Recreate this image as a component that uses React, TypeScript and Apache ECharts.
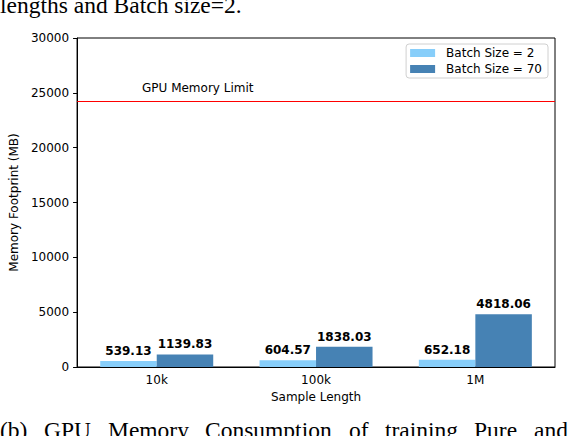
import { useEffect, useRef } from "react";
import * as echarts from "echarts";

// sample lengths on the x axis
const categories = ["10k", "100k", "1M"];
// memory footprint (MB)
const batch2 = [539.13, 604.57, 652.18];
const batch70 = [1139.83, 1838.03, 4818.06];
const seriesNames = ["Batch Size = 2", "Batch Size = 70"];
const gpuLimit = 24220;
const yTicks = { min: 0, max: 30000, interval: 5000 };

// text of the surrounding paper page
const topLine = "lengths and Batch size=2.";
const captionWords = ["(b)", "GPU", "Memory", "Consumption", "of", "training", "Pure", "and"];
const captionX = [0, 44, 108, 205, 349, 385, 474, 534];

const FONT = '"DejaVu Sans", sans-serif';
const SERIF = '"Liberation Serif", "Times New Roman", serif';

export default function App() {
  const chartRef = useRef<HTMLDivElement>(null);

  useEffect(() => {
    if (!chartRef.current) return;
    const chart = echarts.init(chartRef.current, undefined, { renderer: "svg" });

    const labelStyle = {
      show: true,
      position: "top" as const,
      distance: 4,
      color: "#000",
      fontFamily: FONT,
      fontSize: 12,
      fontWeight: "bold" as const,
      formatter: (p: { value: number }) => p.value.toFixed(2),
    };

    const option: echarts.EChartsOption = {
      animation: false,
      backgroundColor: "#fff",
      textStyle: { fontFamily: FONT },
      grid: {
        left: 75,
        right: 13,
        top: 38,
        bottom: 69,
        show: true,
        borderColor: "#000",
        borderWidth: 1,
      },
      legend: {
        orient: "vertical",
        right: 20,
        top: 44,
        icon: "rect",
        itemWidth: 25,
        itemHeight: 8,
        itemGap: 4,
        padding: [3, 6, 3, 4],
        borderColor: "#d0d0d0",
        borderWidth: 1,
        borderRadius: 3,
        backgroundColor: "#fff",
        textStyle: { color: "#000", fontSize: 12, fontFamily: FONT, padding: [0, 0, 0, 6] },
        data: seriesNames,
      },
      xAxis: {
        type: "category",
        data: categories,
        name: "Sample Length",
        nameLocation: "middle",
        nameGap: 22,
        nameTextStyle: { color: "#000", fontSize: 12, fontFamily: FONT },
        axisLine: { lineStyle: { color: "#000", width: 1 } },
        axisTick: { alignWithLabel: true, length: 4, lineStyle: { color: "#000" } },
        axisLabel: { color: "#000", fontSize: 12, fontFamily: FONT, margin: 7 },
      },
      yAxis: {
        type: "value",
        min: yTicks.min,
        max: yTicks.max,
        interval: yTicks.interval,
        name: "Memory Footprint (MB)",
        nameLocation: "middle",
        nameGap: 53,
        nameTextStyle: { color: "#000", fontSize: 12, fontFamily: FONT },
        splitLine: { show: false },
        axisLine: { show: true, lineStyle: { color: "#000", width: 1 } },
        axisTick: { show: true, length: 4, lineStyle: { color: "#000" } },
        axisLabel: {
          color: "#000",
          fontSize: 12,
          fontFamily: FONT,
          margin: 8,
          formatter: (v: number) => String(v),
        },
      },
      series: [
        {
          name: seriesNames[0],
          type: "bar",
          data: batch2,
          barWidth: 56.5,
          barGap: "0%",
          itemStyle: { color: "#87CEFA" },
          label: labelStyle,
          markLine: {
            silent: true,
            symbol: "none",
            label: { show: false },
            lineStyle: { color: "#ff0000", width: 1, type: "solid" },
            data: [{ yAxis: gpuLimit }],
          },
        },
        {
          name: seriesNames[1],
          type: "bar",
          data: batch70,
          barWidth: 56.5,
          barGap: "0%",
          itemStyle: { color: "#4682B4" },
          label: labelStyle,
        },
      ],
      graphic: [
        {
          type: "text",
          x: 142,
          y: 88,
          style: {
            text: "GPU Memory Limit",
            fill: "#000",
            font: `12px ${FONT}`,
            verticalAlign: "middle",
          },
        },
        {
          type: "text",
          x: 0,
          y: -7,
          style: { text: topLine, fill: "#000", font: `23.5px ${SERIF}`, verticalAlign: "top" },
        },
        ...captionWords.map((w, i) => ({
          type: "text" as const,
          x: captionX[i],
          y: 418,
          style: { text: w, fill: "#000", font: `23.5px ${SERIF}`, verticalAlign: "top" as const },
        })),
      ],
    };

    chart.setOption(option);
    return () => chart.dispose();
  }, []);

  return (
    <div
      ref={chartRef}
      style={{ position: "absolute", left: 0, top: 0, width: 568, height: 436 }}
    />
  );
}
